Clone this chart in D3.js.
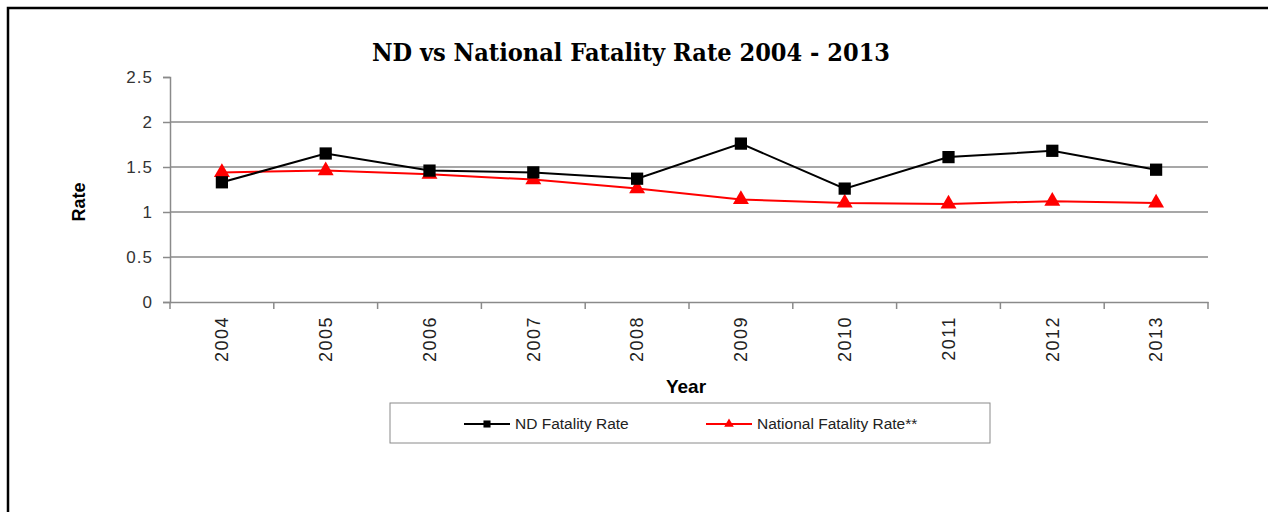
<!DOCTYPE html>
<meta charset="utf-8">
<style>

body {
  margin: 0;
  background: #fff;
}

text {
  font-family: "Liberation Sans", Arial, sans-serif;
}

.title {
  font-family: "DejaVu Serif Condensed", "Liberation Serif", serif;
  font-weight: bold;
  font-size: 25px;
}

</style>
<body>
<script src="https://cdnjs.cloudflare.com/ajax/libs/d3/7.8.5/d3.min.js"></script>
<script>

var width = 1268,
    height = 512;

var years = ["2004", "2005", "2006", "2007", "2008", "2009", "2010", "2011", "2012", "2013"],
    ndRate = [1.33, 1.65, 1.46, 1.44, 1.37, 1.76, 1.26, 1.61, 1.68, 1.47],
    nationalRate = [1.44, 1.46, 1.42, 1.36, 1.26, 1.14, 1.10, 1.09, 1.12, 1.10],
    rateTicks = [0, 0.5, 1, 1.5, 2, 2.5],
    seriesNames = ["ND Fatality Rate", "National Fatality Rate**"];

var plot = {left: 170, right: 1208, top: 77, bottom: 302};

var x = d3.scaleBand()
    .domain(years)
    .range([plot.left, plot.right]);

var y = d3.scaleLinear()
    .domain([0, 2.5])
    .range([plot.bottom, plot.top]);

var svg = d3.select("body").append("svg")
    .attr("width", width)
    .attr("height", height);

// frame round the whole picture (left and top edges show)
svg.append("path")
    .attr("d", "M8," + height + "V8H" + width)
    .attr("fill", "none")
    .attr("stroke", "#000")
    .attr("stroke-width", 2.5);

svg.append("text")
    .attr("class", "title")
    .attr("x", 631)
    .attr("y", 61)
    .attr("text-anchor", "middle")
    .attr("textLength", 518)
    .attr("lengthAdjust", "spacingAndGlyphs")
    .text("ND vs National Fatality Rate 2004 - 2013");

// gridlines
svg.append("g")
    .selectAll("line")
    .data(rateTicks.filter(function(d) { return d > 0 && d < 2.5; }))
  .enter().append("line")
    .attr("x1", plot.left)
    .attr("x2", plot.right)
    .attr("y1", function(d) { return y(d); })
    .attr("y2", function(d) { return y(d); })
    .attr("stroke", "#8a8a8a")
    .attr("stroke-width", 1.5);

var yAxis = svg.append("g")
    .attr("transform", "translate(" + plot.left + ",0)")
    .call(d3.axisLeft(y).tickValues(rateTicks).tickSize(7).tickPadding(10)
      .tickFormat(function(d) { return String(d); }));

yAxis.select(".domain").attr("stroke", "#8a8a8a").attr("stroke-width", 1.5);
yAxis.selectAll(".tick line").attr("stroke", "#8a8a8a").attr("stroke-width", 1.5);
yAxis.selectAll(".tick text")
    .attr("fill", "#333")
    .style("font-size", "17px")
    .style("letter-spacing", "1px")
    .style("font-family", "'Liberation Sans', Arial, sans-serif");

var xAxis = svg.append("g")
    .attr("transform", "translate(0," + plot.bottom + ")")
    .call(d3.axisBottom(x).tickSize(0).tickSizeOuter(0));

xAxis.select(".domain").attr("stroke", "#8a8a8a").attr("stroke-width", 1.5);

// tick marks between categories
xAxis.selectAll(".sep")
    .data(d3.range(years.length + 1))
  .enter().append("line")
    .attr("class", "sep")
    .attr("x1", function(i) { return plot.left + i * x.step(); })
    .attr("x2", function(i) { return plot.left + i * x.step(); })
    .attr("y1", 0)
    .attr("y2", 7)
    .attr("stroke", "#8a8a8a")
    .attr("stroke-width", 1.5);

xAxis.selectAll(".tick text")
    .attr("fill", "#222")
    .attr("transform", "rotate(-90)")
    .attr("text-anchor", "end")
    .attr("x", -14)
    .attr("y", 0)
    .attr("dy", "0.35em")
    .style("letter-spacing", "1.5px")
    .style("font-size", "18px")
    .style("font-family", "'Liberation Sans', Arial, sans-serif");

svg.append("text")
    .attr("transform", "translate(85,202)rotate(-90)")
    .attr("text-anchor", "middle")
    .style("font-weight", "bold")
    .style("font-size", "18px")
    .text("Rate");

svg.append("text")
    .attr("x", 686)
    .attr("y", 393)
    .attr("text-anchor", "middle")
    .style("font-weight", "bold")
    .style("font-size", "19px")
    .text("Year");

var line = d3.line()
    .x(function(d, i) { return x(years[i]) + x.bandwidth() / 2; })
    .y(function(d) { return y(d); });

var square = d3.symbol().type(d3.symbolSquare).size(150),
    triangle = d3.symbol().type(d3.symbolTriangle).size(110);

var series = [
  {name: seriesNames[0], values: ndRate, color: "#000", symbol: square},
  {name: seriesNames[1], values: nationalRate, color: "#f00", symbol: triangle}
];

series.slice().reverse().forEach(function(s) {
  var g = svg.append("g");
  g.append("path")
      .attr("d", line(s.values))
      .attr("fill", "none")
      .attr("stroke", s.color)
      .attr("stroke-width", 2);
  g.selectAll("path.mark")
      .data(s.values)
    .enter().append("path")
      .attr("class", "mark")
      .attr("transform", function(d, i) {
        return "translate(" + (x(years[i]) + x.bandwidth() / 2) + "," + y(d) + ")";
      })
      .attr("d", s.symbol)
      .attr("fill", s.color);
});

// legend
var legend = svg.append("g");

legend.append("rect")
    .attr("x", 390)
    .attr("y", 403)
    .attr("width", 600)
    .attr("height", 40)
    .attr("fill", "#fff")
    .attr("stroke", "#8a8a8a")
    .attr("stroke-width", 1);

var legendX = [464, 706];

var entry = legend.selectAll(".legend-entry")
    .data(series)
  .enter().append("g")
    .attr("class", "legend-entry")
    .attr("transform", function(d, i) { return "translate(" + legendX[i] + ",424)"; });

entry.append("line")
    .attr("x1", 0)
    .attr("x2", 46)
    .attr("stroke", function(d) { return d.color; })
    .attr("stroke-width", 2);

entry.append("path")
    .attr("transform", "translate(23,0)")
    .attr("d", function(d, i) {
      return d3.symbol().type(i ? d3.symbolTriangle : d3.symbolSquare).size(i ? 40 : 50)();
    })
    .attr("fill", function(d) { return d.color; });

entry.append("text")
    .attr("x", 51)
    .attr("dy", "0.35em")
    .attr("fill", "#222")
    .style("font-size", "15.5px")
    .text(function(d) { return d.name; });

</script>
